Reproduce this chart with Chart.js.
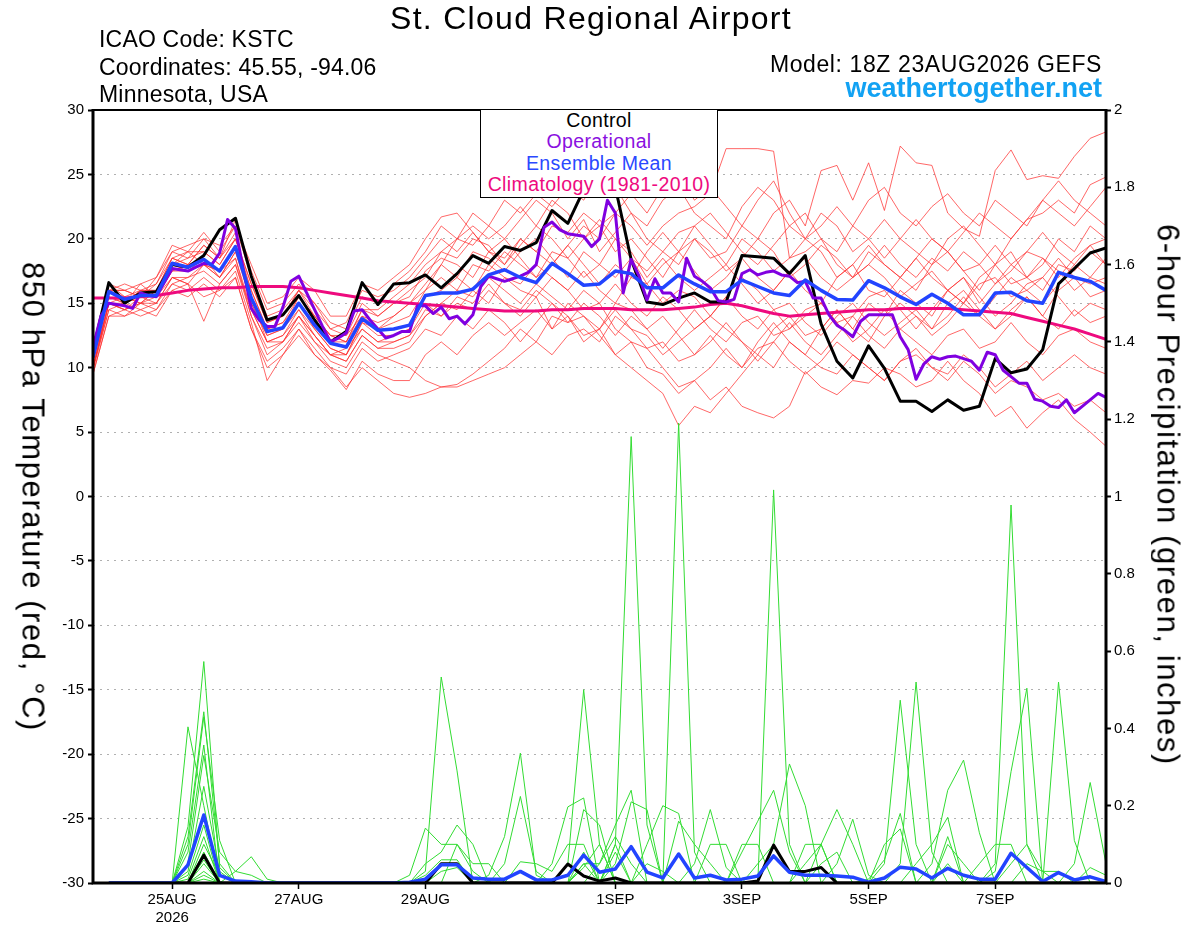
<!DOCTYPE html>
<html>
<head>
<meta charset="utf-8">
<title>St. Cloud Regional Airport - GEFS</title>
<script src="https://cdn.jsdelivr.net/npm/chart.js@4.4.1/dist/chart.umd.min.js"></script>
<style>
  body { margin: 0; background: #fff; }
  #wrap { position: relative; width: 1200px; height: 927px; overflow: hidden;
          font-family: 'Liberation Sans', Arial, sans-serif; color: #000; }
  #wrap canvas { position: absolute; left: 0; top: 0; }
  .txt { position: absolute; white-space: nowrap; line-height: 1; }
  #title { left: 0; width: 1182px; text-align: center; top: 2px; font-size: 32px; letter-spacing: 1.3px; }
  .info { left: 99px; font-size: 23px; letter-spacing: 0.2px; }
  #model { right: 98px; top: 53px; font-size: 23px; letter-spacing: 0.6px; }
  #site { right: 98px; top: 75px; font-size: 27px; font-weight: bold; color: #12a2f3; }
  .axtitle { font-size: 31px; letter-spacing: 1.6px; transform: translate(-50%, -50%) rotate(90deg); }
  #legend { position: absolute; left: 480px; top: 109px; width: 238px; height: 89px; box-sizing: border-box;
            border: 1.5px solid #000; background: #fff; text-align: center; font-size: 19.5px; letter-spacing: 0.4px; }
  #legend div { line-height: 21.3px; white-space: nowrap; }
</style>
</head>
<body>
<div id="wrap">
  <canvas id="chart" width="1200" height="927"></canvas>
  <div class="txt" id="title">St. Cloud Regional Airport</div>
  <div class="txt info" style="top:28px">ICAO Code: KSTC</div>
  <div class="txt info" style="top:55.5px">Coordinates: 45.55, -94.06</div>
  <div class="txt info" style="top:83px">Minnesota, USA</div>
  <div class="txt" id="model">Model: 18Z 23AUG2026 GEFS</div>
  <div class="txt" id="site">weathertogether.net</div>
  <div class="txt axtitle" style="left:33px; top:497px">850 hPa Temperature (red, °C)</div>
  <div class="txt axtitle" style="left:1168px; top:495px">6-hour Precipitation (green, inches)</div>
  <div id="legend">
    <div style="color:#000">Control</div>
    <div style="color:#8a10e0">Operational</div>
    <div style="color:#2a48ff">Ensemble Mean</div>
    <div style="color:#ee0a7e">Climatology (1981-2010)</div>
  </div>
</div>
<script>
// time axis: hours after 18Z 23AUG2026, members every 6 h, operational every 3 h
var dayTickHours = [30, 78, 126, 198, 246, 294, 342];
var dayTickLabels = [['25AUG', '2026'], '27AUG', '29AUG', '1SEP', '3SEP', '5SEP', '7SEP'];
var tempTicks = [-30, -25, -20, -15, -10, -5, 0, 5, 10, 15, 20, 25, 30];
var precipTicks = [0, 0.2, 0.4, 0.6, 0.8, 1, 1.2, 1.4, 1.6, 1.8, 2];

// 850 hPa temperature, ensemble members (6-hourly, 65 values each)
var tempMembers = [
  [10, 15, 15.5, 16, 16, 18, 18.5, 19, 18, 20, 16, 13, 13.5,
   15.5, 14, 12.5, 12, 14.5, 14, 15, 16, 17, 19, 20, 21, 20,
   21, 22.5, 21, 23, 22, 20, 21, 22, 21, 19.5, 21, 22, 22.5,
   23.5, 27, 27, 27, 26.8, 18.5, 19, 20, 18, 17, 19, 18, 17,
   16, 18, 19, 17.5, 16, 18, 19, 17, 18, 20, 19, 21, 20],
  [11, 16, 16, 15.5, 17, 19, 19.5, 20, 19.5, 21, 17, 14, 14.5,
   16, 15, 13, 13.5, 16, 15.5, 16, 17, 18.5, 20, 19, 20.5, 19,
   18, 20, 19, 21, 20.5, 22, 21, 19, 20, 18.5, 17, 19, 20,
   18.5, 19, 21, 20, 22, 23, 21, 25.3, 25.7, 23, 25.9, 22.2, 27.2,
   25.9, 25.7, 22, 20.8, 20.2, 25.3, 26.9, 24.6, 24.9, 24.7, 26.4, 27.8, 28.3],
  [10.5, 15.5, 15, 16.5, 15.5, 17.5, 18, 19.5, 18.5, 20.5, 15, 12.5, 13,
   14.5, 13, 11.5, 11, 13.5, 13, 14, 15, 16.5, 18, 20, 19.5, 21,
   23, 22, 23.5, 22.5, 24, 23, 25, 24, 22, 21, 23, 24, 22,
   21, 20, 22.5, 24, 23, 21, 20, 22, 21, 19, 20, 21.5, 20,
   19, 18, 20, 21, 19.5, 18, 20, 21.5, 22, 23, 22, 24.2, 24.8],
  [9.5, 14, 14.5, 14, 14.5, 16, 16.5, 15.5, 16, 17, 13, 10, 11,
   12.5, 11, 10, 8.5, 10, 9, 8, 7.7, 8, 8.5, 8.5, 9, 9.5,
   10, 11, 12, 11, 12.5, 13, 12, 14, 13, 12.5, 11, 12, 13,
   14, 13, 12, 11, 13, 14, 12.5, 13, 14.5, 13, 12, 14, 15,
   14, 13, 15, 16, 14.5, 13, 14, 15.5, 14, 16, 17, 15.5, 16],
  [10, 15, 14.5, 15, 15, 17, 16.5, 18, 17, 18.5, 14, 11.5, 12,
   14, 12, 11, 10.5, 12.5, 11.5, 12, 12.5, 14, 15, 14.5, 16, 15,
   17, 16, 15.5, 17, 16, 14.5, 15, 13, 12, 11.5, 10, 8.5, 9,
   10, 11.5, 10, 12, 13.5, 12, 11, 10, 9.5, 11, 10, 9, 10.5,
   11, 10, 9, 10.5, 9.5, 8, 9, 8.5, 7.5, 8, 7, 7.5, 6.5],
  [11, 16.5, 15.5, 15, 16, 18, 17.5, 18.5, 17, 19, 15.5, 12, 12.5,
   14.5, 12.5, 11, 11.5, 13, 12, 12.5, 13, 15, 14, 15.5, 15, 16.5,
   15, 14, 15.5, 13, 14, 12, 13, 11, 10, 9, 8, 5.5, 7,
   6.5, 8, 9.5, 11, 10, 12, 11, 13, 14.5, 13, 15, 14, 16,
   15, 14, 16, 17, 15, 16.5, 18, 17, 16, 18, 17.5, 19, 18],
  [10.5, 15.5, 15, 15.5, 16, 18.5, 18, 18.5, 17.5, 19.5, 15.5, 13, 13.5,
   15, 13.5, 12, 12, 14, 13, 13.5, 14, 16, 17, 16, 18, 17.5,
   19, 18, 17, 19, 18.5, 17, 18, 20, 19, 17, 18.5, 17, 16,
   17, 18, 16.5, 15, 16, 17.5, 16, 15, 17, 18, 16, 15.5, 17,
   18.5, 17, 16, 15, 16.5, 17, 15.5, 16, 17, 18.5, 17, 16.5, 17],
  [10, 14.5, 14, 15, 14.5, 16.5, 17, 17.5, 16.5, 18, 14.5, 12, 12,
   13.5, 12, 10.5, 10, 12, 11, 10.5, 10, 9, 8.5, 8.7, 9.5, 10.5,
   11.5, 13, 12, 14, 13.5, 15, 14, 12.5, 14, 13, 11.5, 13, 14.5,
   13, 12, 13.5, 14, 12.5, 13, 14.5, 15, 13.5, 14, 15.5, 16, 14.5,
   13, 14.5, 16, 17, 15.5, 14, 15, 16.5, 17, 15.5, 14, 15, 14.5],
  [11.5, 16, 16.5, 16, 16.5, 19, 18.5, 20, 18.5, 21.5, 17.5, 14.5, 15,
   16.5, 15, 13.5, 13, 15.5, 15, 16.5, 17.5, 19, 21, 20, 22, 21,
   20, 21.5, 23, 22, 20, 21.5, 19, 20.5, 22, 20, 19, 20.5, 21,
   19.5, 18, 20, 19, 17.5, 18.5, 20, 19, 17, 18, 19.5, 18, 17,
   18.5, 20, 19, 17.5, 18, 19.5, 18, 19, 20.5, 19, 18, 19.5, 20],
  [10, 15, 15, 16, 15.5, 17.5, 17.5, 18, 17, 19, 15, 12.5, 13,
   15, 13, 11.5, 11, 13.5, 12.5, 12.5, 13, 15.5, 16, 17, 16, 18,
   17, 16.5, 18, 17, 16, 17.5, 16, 15, 17, 16.5, 15, 16, 15.5,
   14, 15.5, 17, 16, 14.5, 13, 14, 15, 13.5, 12, 13, 14.5, 13,
   12, 11, 12.5, 13, 11.5, 12, 13.5, 12, 11, 12.5, 13, 12, 11.5],
  [10.5, 16, 15.5, 15, 16, 18, 19, 19, 18, 20, 16.5, 13.5, 14,
   16, 14.5, 13, 12.5, 15, 14, 15, 15.5, 17.5, 18.5, 18, 17, 19,
   18.5, 20, 19, 18, 19.5, 21, 20, 22, 23.5, 22, 24, 25, 23,
   24, 22.5, 21, 23, 24.5, 22, 20, 21, 22.5, 21, 23, 24, 22,
   21, 22.5, 23.5, 22, 21, 23, 22, 21, 23, 24.5, 23, 22, 21],
  [9.8, 14.5, 15, 14.5, 15, 16.5, 16, 17, 16, 17.5, 13.5, 9, 11,
   13, 11.5, 10, 9.5, 11.5, 10.5, 11, 11.5, 13, 12.5, 14, 13, 14.5,
   13.5, 12, 13.5, 15, 14, 12.5, 13, 14.5, 13, 11.5, 12, 10.5, 11,
   12.5, 11, 10, 11.5, 12, 10.5, 9.5, 10.5, 12, 11, 10, 9, 10.5,
   11.5, 10, 9.5, 11, 10, 8.5, 9.5, 10.5, 9, 10, 11, 10, 9.5],
  [11, 16, 15, 16, 16, 18.5, 19, 18, 17.5, 19.5, 16, 13, 13,
   15.5, 14, 12.5, 12.5, 14, 13.5, 14, 15, 16, 18, 17, 19, 18.5,
   17.5, 19, 20, 18.5, 17, 19, 18, 17, 18.5, 16.5, 18, 19, 17.5,
   16, 17, 18.5, 17, 16, 17.5, 18.5, 17, 16, 17, 18, 17, 15.5,
   16.5, 17.5, 16, 15, 17, 18, 16.5, 17, 18.5, 17.5, 16, 17, 18.5],
  [10, 15, 14.5, 15.5, 15, 17, 17, 18, 17.5, 18.5, 14.5, 12, 12.5,
   14, 12.5, 11, 11, 13, 12, 12, 12.5, 14.5, 14, 15, 14.5, 16,
   15, 14.5, 16, 15, 13.5, 14, 12.5, 11, 12, 10, 9.5, 8, 9,
   7.5, 8.5, 7, 6.5, 6.1, 7, 9.7, 8.5, 7.9, 9, 8.8, 10, 9.5,
   8.5, 9, 10.5, 9, 8, 6.2, 7, 5.3, 6.5, 7.5, 6, 5, 3.9],
  [11, 16.5, 16, 16.5, 17, 19.5, 19, 20.5, 19, 21, 18, 15, 15.5,
   17, 16, 14, 14, 16.5, 16, 17, 18, 20, 21.7, 22, 20.5, 19,
   20, 18.5, 17, 18, 19.5, 18, 16.5, 18, 17, 19, 20.5, 19, 21,
   22, 20.5, 19, 18, 19.5, 21, 22, 20, 19, 21, 20, 18.5, 20,
   21.5, 20, 19, 20.5, 22, 21, 20, 21.5, 23, 22, 21, 22.5, 24],
  [10.5, 15, 14.5, 15, 15.5, 17, 16.5, 13.6, 16.5, 18, 14, 11, 12,
   14, 12.5, 11, 10.5, 12.5, 11.5, 11.5, 12, 14, 15, 16, 15.5, 17,
   16, 15, 16.5, 15.5, 14.5, 16, 15, 16.5, 15, 14, 15.5, 14.5, 13,
   14, 15.5, 14, 13, 14.5, 15, 13.5, 12.5, 14, 15, 13.5, 12.5, 13.5,
   14.5, 13, 14, 15.5, 14, 13, 14.5, 15.5, 14, 13, 14.5, 13.5, 14],
  [11, 16, 16, 15.5, 16.5, 18.5, 18, 19.5, 18.5, 20, 16.5, 13.5, 14,
   16, 14, 12.5, 12, 14.5, 14.5, 15.5, 16.5, 18, 19, 18.5, 20, 19.5,
   18, 19.5, 21, 20, 18.5, 20, 21.5, 20, 18.5, 17.5, 19, 18, 20,
   19, 17.5, 18.5, 20, 19, 17, 18, 19.5, 18.5, 17, 18, 19.5, 18,
   17, 18.5, 17.5, 19, 18, 16.5, 17.5, 19, 18.5, 17, 18.5, 19.5, 18],
  [9.5, 14, 14, 14.5, 14, 16, 15.5, 16.5, 15.5, 17, 13, 10.5, 11.5,
   13, 11, 9.8, 8.3, 10.5, 9.5, 9, 9, 11, 12, 11, 12.5, 13.5,
   12.5, 13.5, 14.5, 13, 15, 14, 13, 15, 14.5, 13, 14, 12.5, 11,
   12, 13.5, 12, 10.5, 12, 13.5, 12, 11, 12.5, 14, 12.5, 11.5, 13,
   14, 12.5, 13.5, 15, 14, 15.5, 17, 16, 15, 16.5, 18, 17, 16.5]
];

// 6-hour precipitation, ensemble members (inches; first value has no accumulation)
var precipMembers = [
  [null, 0, 0, 0, 0, 0, .404, .2, 0, 0, 0, 0, 0,  0, 0, 0, 0, 0, 0, 0, 0, 0, .05, .05, 0, 0,
   0, 0, 0, 0, 0, 0, 0, .1, 1.155, .15, 0, 0, 0,  0, 0, 0, 0, 0, 0, 0, 0, 0, 0, 0, 0, 0,
   0, 0, .12, 0, 0, 0, 0, 0, 0, 0, 0, .04, .02],
  [null, 0, 0, 0, 0, 0, .146, .573, .04, 0, 0, 0, 0,  0, 0, 0, 0, 0, 0, 0, 0, 0, 0, 0, 0, 0,
   0, 0, 0, .05, .197, .22, 0, 0, 0, 0, 0, 0, 0,  0, 0, 0, 0, 0, 0, .05, .1, 0, 0, 0, 0, 0,
   0, 0, 0, 0, 0, 0, .05, .1, .03, 0, 0, 0, 0],
  [null, 0, 0, 0, 0, 0, .12, .443, .05, 0, 0, 0, 0,  0, 0, 0, 0, 0, 0, 0, 0, 0, 0, 0, 0, 0,
   .05, .224, .03, 0, 0, 0, 0, 0, 0, 0, 0, 0, 0,  0, 0, 0, .05, .1, .308, .2, 0, 0, 0, 0, 0, 0,
   0, 0, 0, 0, 0, 0, 0, 0, 0, 0, 0, 0, 0],
  [null, 0, 0, 0, 0, 0, .1, .43, .11, 0, 0, 0, 0,  0, 0, 0, 0, 0, 0, 0, 0, 0, 0, 0, 0, 0,
   0, 0, 0, 0, .05, .5, .1, 0, 0, 0, 0, 0, 0,  0, 0, 0, 0, 0, 0, 0, 0, 0, 0, 0, .05, .473,
   .1, 0, 0, 0, 0, 0, 0, 0, 0, 0, 0, 0, 0],
  [null, 0, 0, 0, 0, 0, .08, .357, 0, 0, 0, 0, 0,  0, 0, 0, 0, 0, 0, 0, 0, .05, .08, .15, .1, 0,
   0, 0, 0, 0, 0, 0, 0, 0, 0, 0, 0, 0, 0,  0, 0, 0, 0, 1.017, .1, 0, 0, 0, 0, 0, 0, 0,
   0, 0, 0, 0, 0, 0, 0, 0, 0, 0, 0, 0, 0],
  [null, 0, 0, 0, 0, 0, .05, .33, .08, .03, .02, 0, 0,  0, 0, 0, 0, 0, 0, 0, 0, 0, 0, 0, 0, 0,
   0, 0, 0, 0, 0, .19, .15, 0, 0, 0, 0, 0, 0,  0, 0, 0, 0, 0, 0, 0, .1, .19, .1, 0, 0, 0,
   0, 0, 0, 0, 0, 0, 0, 0, 0, 0, 0, 0, 0],
  [null, 0, 0, 0, 0, 0, .03, .25, .03, 0, 0, 0, 0,  0, 0, 0, 0, 0, 0, 0, 0, 0, 0, 0, 0, 0,
   0, 0, 0, 0, 0, .08, 0, 0, 0, .1, .2, .18, 0,  0, 0, 0, 0, 0, 0, 0, 0, 0, 0, 0, 0, 0,
   0, 0, .05, 0, 0, 0, 0, 0, 0, .52, .11, 0, 0],
  [null, 0, 0, 0, 0, 0, .02, .15, 0, 0, 0, 0, 0,  0, 0, 0, 0, 0, 0, 0, 0, 0, 0, 0, 0, 0,
   0, 0, 0, 0, 0, .05, .05, .12, .05, 0, 0, 0, 0,  0, 0, 0, 0, 0, 0, 0, .05, .08, 0, 0, 0, 0,
   0, 0, 0, 0, 0, 0, 0, .05, .03, .03, 0, 0, 0],
  [null, 0, 0, 0, 0, 0, .01, .12, 0, 0, 0, 0, 0,  0, 0, 0, 0, 0, 0, 0, 0, 0, 0, 0, 0, 0,
   0, 0, 0, 0, 0, .05, 0, .1, 0, 0, 0, 1.19, .08,  0, 0, 0, 0, 0, 0, 0, 0, 0, 0, 0, 0, 0,
   0, 0, 0, 0, 0, .03, .288, .504, 0, 0, 0, 0, 0],
  [null, 0, 0, 0, 0, 0, 0, .1, .02, 0, 0, 0, 0,  0, 0, 0, 0, 0, 0, 0, 0, 0, 0, 0, 0, 0,
   0, 0, 0, 0, 0, .04, .1, 0, 0, 0, 0, 0, 0,  .1, .1, 0, 0, 0, 0, 0, 0, .05, .165, .02, 0, 0,
   0, 0, 0, 0, 0, 0, 0, 0, 0, 0, 0, 0, 0],
  [null, 0, 0, 0, 0, 0, 0, .08, 0, .03, .068, .01, 0,  0, 0, 0, 0, 0, 0, 0, 0, 0, 0, 0, 0, 0,
   0, 0, 0, 0, 0, 0, .05, .15, .24, 0, 0, 0, 0,  0, 0, 0, 0, 0, 0, 0, 0, 0, 0, .01, .06, .18,
   0, 0, 0, 0, 0, 0, 0, 0, 0, 0, 0, 0, 0],
  [null, 0, 0, 0, 0, 0, 0, .06, 0, 0, 0, 0, 0,  0, 0, 0, 0, 0, 0, 0, .02, .142, .1, .1, .03, 0,
   0, 0, 0, 0, 0, 0, 0, 0, 0, .05, .03, 0, 0,  0, 0, 0, 0, 0, 0, 0, 0, 0, 0, 0, .1, .14,
   0, 0, 0, 0, 0, 0, 0, 0, 0, 0, 0, 0, 0],
  [null, 0, 0, 0, 0, 0, 0, .05, 0, 0, 0, 0, 0,  0, 0, 0, 0, 0, 0, 0, 0, .03, .533, .29, 0, 0,
   0, 0, 0, 0, 0, 0, 0, 0, 0, 0, 0, 0, .05,  .19, .04, 0, 0, 0, 0, 0, 0, 0, 0, 0, 0, .05,
   .52, .08, 0, 0, 0, 0, 0, 0, 0, 0, 0, 0, 0],
  [null, 0, 0, 0, 0, 0, 0, .03, 0, 0, 0, 0, 0,  0, 0, 0, 0, 0, 0, 0, 0, .02, .06, .06, 0, 0,
   0, 0, 0, 0, 0, 0, 0, .08, 0, 0, 0, 0, 0,  0, 0, .1, .1, 0, 0, 0, 0, 0, 0, 0, 0, 0,
   .05, .1, .17, 0, 0, 0, 0, 0, 0, 0, 0, 0, 0],
  [null, 0, 0, 0, 0, 0, 0, .02, 0, 0, 0, 0, 0,  0, 0, 0, 0, 0, 0, 0, 0, 0, .03, .04, 0, 0,
   0, 0, 0, 0, 0, 0, 0, .05, .21, .19, 0, 0, 0,  0, 0, 0, 0, 0, 0, 0, 0, 0, 0, 0, 0, 0,
   0, .05, .24, .318, .13, 0, 0, 0, 0, 0, 0, 0, 0],
  [null, 0, 0, 0, 0, 0, 0, .01, 0, 0, 0, 0, 0,  0, 0, 0, 0, 0, 0, 0, 0, 0, 0, .1, .05, .05,
   0, 0, 0, 0, 0, 0, 0, 0, 0, 0, 0, .16, .1,  .05, 0, 0, 0, 0, 0, 0, 0, 0, 0, 0, 0, 0,
   0, 0, .1, .05, 0, 0, 0, 0, 0, 0, .05, .26, .05],
  [null, 0, 0, 0, 0, 0, 0, 0, 0, 0, 0, 0, 0,  0, 0, 0, 0, 0, 0, 0, 0, 0, 0, 0, 0, .02,
   .12, .336, .02, 0, 0, 0, 0, 0, 0, 0, 0, 0, 0,  0, 0, .08, .16, .24, .08, 0, 0, 0, 0, 0, 0, 0,
   0, 0, 0, 0, .05, .1, .1, 0, 0, 0, 0, 0, 0],
  [null, 0, 0, 0, 0, 0, 0, 0, 0, 0, 0, 0, 0,  0, 0, 0, 0, 0, 0, 0, 0, 0, 0, 0, 0, 0,
   0, .055, .05, .03, .1, .1, 0, 0, 0, 0, 0, 0, 0,  0, 0, 0, 0, 0, 0, .1, .1, 0, 0, 0, 0, 0,
   0, 0, 0, 0, 0, .05, .978, .1, 0, 0, 0, 0, 0]
];

var controlTemp = [11.3, 16.6, 15.0, 15.8, 15.9, 18.0, 17.8, 18.7, 20.7, 21.6, 17.1, 13.7, 14.1,
  15.6, 13.7, 12.0, 12.8, 16.6, 14.9, 16.5, 16.6, 17.2, 16.2, 17.3, 18.7, 18.1,
  19.4, 19.1, 19.7, 22.2, 21.2, 23.8, 25.5, 24.0, 18.4, 15.1, 14.9, 15.4, 15.8,
  15.1, 15.1, 18.7, 18.6, 18.5, 17.3, 18.7, 13.4, 10.5, 9.2, 11.7, 9.95, 7.4,
  7.4, 6.6, 7.5, 6.7, 7.0, 10.7, 9.6, 9.9, 11.4, 16.5, 17.7, 18.9, 19.3];

var meanTemp = [10.8, 15.9, 15.3, 15.6, 15.6, 18.1, 17.8, 18.4, 17.5, 19.4, 15.4, 12.8, 13.1,
  15.0, 13.3, 11.9, 11.6, 13.8, 12.9, 13.0, 13.3, 15.6, 15.8, 15.8, 16.1, 17.2,
  17.6, 17.0, 16.6, 18.1, 17.3, 16.4, 16.5, 17.5, 17.3, 16.2, 16.2, 17.2, 16.5,
  15.9, 15.9, 16.8, 16.3, 15.8, 15.6, 16.8, 16.0, 15.3, 15.25, 16.75, 16.2, 15.5,
  14.9, 15.7, 15.0, 14.1, 14.1, 15.8, 15.85, 15.2, 15.0, 17.4, 17.0, 16.7, 16.0];

var climTemp = [15.4, 15.4, 15.4, 15.5, 15.6, 15.8, 16.0, 16.1, 16.2, 16.2, 16.3, 16.3, 16.3,
  16.2, 16.0, 15.8, 15.6, 15.4, 15.2, 15.1, 15.0, 14.9, 14.8, 14.7, 14.6, 14.5,
  14.4, 14.4, 14.4, 14.5, 14.5, 14.6, 14.6, 14.6, 14.5, 14.5, 14.5, 14.6, 14.7,
  14.9, 15.0, 14.8, 14.5, 14.2, 14.0, 14.1, 14.2, 14.3, 14.4, 14.5, 14.5, 14.6,
  14.6, 14.6, 14.6, 14.5, 14.4, 14.3, 14.2, 13.9, 13.6, 13.3, 13.0, 12.6, 12.2];

// operational run, 3-hourly (129 values)
var operTemp = [11.6, 14.0, 15.0, 14.9, 14.8, 14.6, 15.8, 15.6, 15.5, 16.6, 17.7, 17.6, 17.5, 17.8, 18.1, 18.0,
  18.9, 21.5, 20.8, 17.6, 14.6, 13.7, 13.2, 13.2, 14.7, 16.7, 17.1, 15.8, 14.5, 13.2, 12.0, 12.3,
  12.7, 14.4, 14.5, 13.7, 13.0, 12.3, 12.5, 12.8, 12.8, 14.8, 14.8, 14.2, 14.7, 13.8, 14.0, 13.4,
  14.1, 16.3, 17.1, 16.9, 16.7, 16.9, 17.1, 17.4, 18.0, 20.9, 21.3, 20.7, 20.4, 20.3, 20.2, 19.4,
  20.0, 23.0, 22.0, 15.8, 18.4, 17.1, 15.25, 16.9, 15.8, 15.8, 15.1, 18.5, 17.1, 16.7, 16.2, 15.2,
  15.1, 15.3, 17.3, 17.6, 17.2, 17.4, 17.5, 17.2, 17.1, 16.6, 16.7, 15.4, 15.4, 14.1, 13.3, 12.9,
  12.4, 13.6, 14.1, 14.1, 14.1, 14.1, 12.4, 11.4, 9.1, 10.3, 10.85, 10.65, 10.85, 10.9, 10.7, 10.5,
  9.8, 11.2, 11.0, 9.8, 9.3, 8.8, 8.8, 7.55, 7.4, 7.0, 6.9, 7.5, 6.5, 7.0, 7.5, 8.0,
  7.7];

var controlPrecip = [null, 0, 0, 0, 0, 0, 0, .072, 0, 0, 0, 0, 0,
  0, 0, 0, 0, 0, 0, 0, 0, 0, .05, .05, 0, 0,
  0, 0, 0, 0, .049, .018, .005, .013, 0, 0, 0, 0, 0,
  0, 0, 0, .005, .098, .03, .03, .04, 0, 0, 0, 0, 0,
  0, 0, 0, 0, 0, 0, 0, 0, 0, 0, 0, 0, 0];

var meanPrecip = [null, 0, 0, 0, 0, 0, .047, .176, .02, .005, .003, 0, 0,
  0, 0, 0, 0, 0, 0, 0, .002, .01, .047, .047, .013, .01,
  .01, .03, .008, .008, .02, .072, .028, .036, .094, .028, .013, .075, .013,
  .02, .008, .01, .018, .07, .028, .02, .02, .018, .015, .002, .013, .041,
  .036, .013, .038, .02, .01, .01, .077, .04, .004, .027, .008, .016, .004];

function series(values, step) {
  return values.map(function (v, i) { return { x: i * step, y: v }; });
}

var datasets = [];
tempMembers.forEach(function (m) {
  datasets.push({ data: series(m, 6), yAxisID: 'y', borderColor: 'rgba(255,45,45,0.72)', borderWidth: 1, order: 20 });
});
precipMembers.forEach(function (m) {
  datasets.push({ data: series(m, 6), yAxisID: 'y2', borderColor: 'rgb(50,220,50)', borderWidth: 1, order: 19 });
});
datasets.push({ data: series(climTemp, 6), yAxisID: 'y', borderColor: '#ee0a7e', borderWidth: 3, order: 4 });
datasets.push({ data: series(controlTemp, 6), yAxisID: 'y', borderColor: '#000', borderWidth: 3, order: 3 });
datasets.push({ data: series(controlPrecip, 6), yAxisID: 'y2', borderColor: '#000', borderWidth: 3, order: 3 });
datasets.push({ data: series(operTemp, 3), yAxisID: 'y', borderColor: '#8000e0', borderWidth: 3, order: 2 });
datasets.push({ data: series(meanTemp, 6), yAxisID: 'y', borderColor: '#2244ff', borderWidth: 3.5, order: 1 });
datasets.push({ data: series(meanPrecip, 6), yAxisID: 'y2', borderColor: '#2244ff', borderWidth: 3.5, order: 1 });

// black box round the plot, drawn over the lines
var framePlugin = {
  id: 'frame',
  afterDatasetsDraw: function (chart) {
    var ctx = chart.ctx, a = chart.chartArea;
    ctx.save();
    ctx.strokeStyle = '#000';
    ctx.lineWidth = 3;
    ctx.beginPath();
    ctx.moveTo(a.left, a.top);
    ctx.lineTo(a.left, a.bottom);
    ctx.lineTo(a.right, a.bottom);
    ctx.lineTo(a.right, a.top);
    ctx.stroke();
    ctx.lineWidth = 2;
    ctx.beginPath();
    ctx.moveTo(a.left - 1.5, a.top);
    ctx.lineTo(a.right + 1.5, a.top);
    ctx.stroke();
    ctx.restore();
  }
};

Chart.defaults.font.family = "'Liberation Sans', Arial, sans-serif";
Chart.defaults.color = '#000';

new Chart(document.getElementById('chart'), {
  type: 'line',
  data: { datasets: datasets },
  plugins: [framePlugin],
  options: {
    responsive: false,
    animation: false,
    events: [],
    layout: { padding: { top: 110, left: 0, right: 0, bottom: 0 } },
    elements: {
      point: { radius: 0 },
      line: { tension: 0, borderJoinStyle: 'round', fill: false }
    },
    plugins: { legend: { display: false }, tooltip: { enabled: false } },
    scales: {
      x: {
        type: 'linear', min: 0, max: 384,
        afterBuildTicks: function (s) { s.ticks = dayTickHours.map(function (v) { return { value: v }; }); },
        afterFit: function (s) { s.height = 44; },
        ticks: {
          autoSkip: false, maxRotation: 0, padding: 2, font: { size: 15 },
          callback: function (v) { return dayTickLabels[dayTickHours.indexOf(v)]; }
        },
        grid: { drawOnChartArea: false, drawTicks: true, tickLength: 6, tickColor: '#000', tickWidth: 1.5 },
        border: { display: false }
      },
      y: {
        position: 'left', min: -30, max: 30,
        afterBuildTicks: function (s) { s.ticks = tempTicks.map(function (v) { return { value: v }; }); },
        afterFit: function (s) { s.width = 93; },
        ticks: { padding: 4, font: { size: 15 }, callback: function (v) { return String(v); } },
        grid: { color: '#b0b0b0', lineWidth: 1, tickLength: 5, tickColor: '#000', tickWidth: 2, tickBorderDash: [] },
        border: { display: false, dash: [2, 5] }
      },
      y2: {
        position: 'right', min: 0, max: 2,
        afterBuildTicks: function (s) { s.ticks = precipTicks.map(function (v) { return { value: v }; }); },
        afterFit: function (s) { s.width = 94; },
        ticks: { padding: 3, font: { size: 15 }, callback: function (v) { return String(v); } },
        grid: { drawOnChartArea: false, tickLength: 5, tickColor: '#000', tickWidth: 2 },
        border: { display: false }
      }
    }
  }
});
</script>
</body>
</html>
